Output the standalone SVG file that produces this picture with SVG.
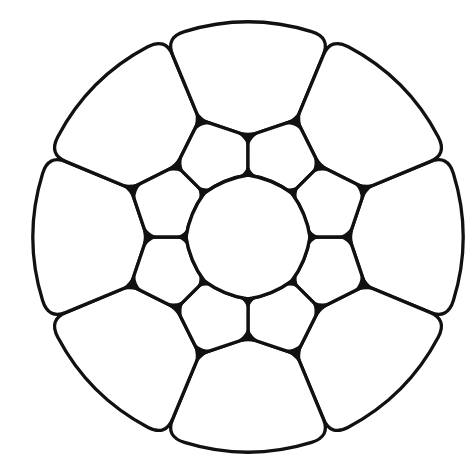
<svg xmlns="http://www.w3.org/2000/svg" xmlns:xlink="http://www.w3.org/1999/xlink" width="470" height="470" viewBox="0 0 470 470">
<style>
.cell{fill:#fff;stroke:#111;stroke-width:3.3;stroke-linejoin:round}
.fil{fill:#111;stroke:none}
</style>
<defs>
<path id="outerCell" class="cell" d="M117.33,-48.6 L101,0 L117.33,48.6 L182,75.39 Q199.56,82.66 205.39,63.58 A215,215 0 0 0 205.39,-63.58 Q199.56,-82.66 182,-75.39 Z"/>
<path id="innerCell" class="cell" d="M62,0 L101,0 L117.33,48.6 L71.42,71.42 L43.84,43.84 A100,100 0 0 0 62,0 Z"/>
<path id="fI" class="fil" d="M77,0 Q62,0 58.29,15.56 Q62,0 58.29,-15.56 Q62,0 77,0Z"/>
<path id="fM" class="fil" d="M86,0 Q101,0 107.37,18.96 Q101,0 107.37,-18.96 Q101,0 86,0Z"/>
<path id="fO" class="fil" d="M132.11,54.72 Q117.33,48.6 110.96,29.64 Q117.33,48.6 99.42,57.5 Q117.33,48.6 132.11,54.72Z"/>
<g id="jset"><use href="#fI"/><use href="#fM"/><use href="#fO"/></g>
</defs>
<rect width="470" height="470" fill="#fff"/>
<g id="outer-ring" transform="translate(248 237)">
<g id="outer-right"><use href="#outerCell"/></g>
<g id="outer-bottom-right"><use href="#outerCell" transform="rotate(45)"/></g>
<g id="outer-bottom"><use href="#outerCell" transform="rotate(90)"/></g>
<g id="outer-bottom-left"><use href="#outerCell" transform="rotate(135)"/></g>
<g id="outer-left"><use href="#outerCell" transform="rotate(180)"/></g>
<g id="outer-top-left"><use href="#outerCell" transform="rotate(225)"/></g>
<g id="outer-top"><use href="#outerCell" transform="rotate(270)"/></g>
<g id="outer-top-right"><use href="#outerCell" transform="rotate(315)"/></g>
</g>
<g id="inner-ring" transform="translate(248 237)">
<g id="inner-1"><use href="#innerCell"/></g>
<g id="inner-2"><use href="#innerCell" transform="rotate(45)"/></g>
<g id="inner-3"><use href="#innerCell" transform="rotate(90)"/></g>
<g id="inner-4"><use href="#innerCell" transform="rotate(135)"/></g>
<g id="inner-5"><use href="#innerCell" transform="rotate(180)"/></g>
<g id="inner-6"><use href="#innerCell" transform="rotate(225)"/></g>
<g id="inner-7"><use href="#innerCell" transform="rotate(270)"/></g>
<g id="inner-8"><use href="#innerCell" transform="rotate(315)"/></g>
</g>
<g id="core">
<path class="cell" d="M310,237 A100,100 0 0 1 291.84,280.84 A100,100 0 0 1 248,299 A100,100 0 0 1 204.16,280.84 A100,100 0 0 1 186,237 A100,100 0 0 1 204.16,193.16 A100,100 0 0 1 248,175 A100,100 0 0 1 291.84,193.16 A100,100 0 0 1 310,237 Z"/>
</g>
<g id="junctions" transform="translate(248 237)">
<use href="#jset"/>
<use href="#jset" transform="rotate(45)"/>
<use href="#jset" transform="rotate(90)"/>
<use href="#jset" transform="rotate(135)"/>
<use href="#jset" transform="rotate(180)"/>
<use href="#jset" transform="rotate(225)"/>
<use href="#jset" transform="rotate(270)"/>
<use href="#jset" transform="rotate(315)"/>
</g>
</svg>
